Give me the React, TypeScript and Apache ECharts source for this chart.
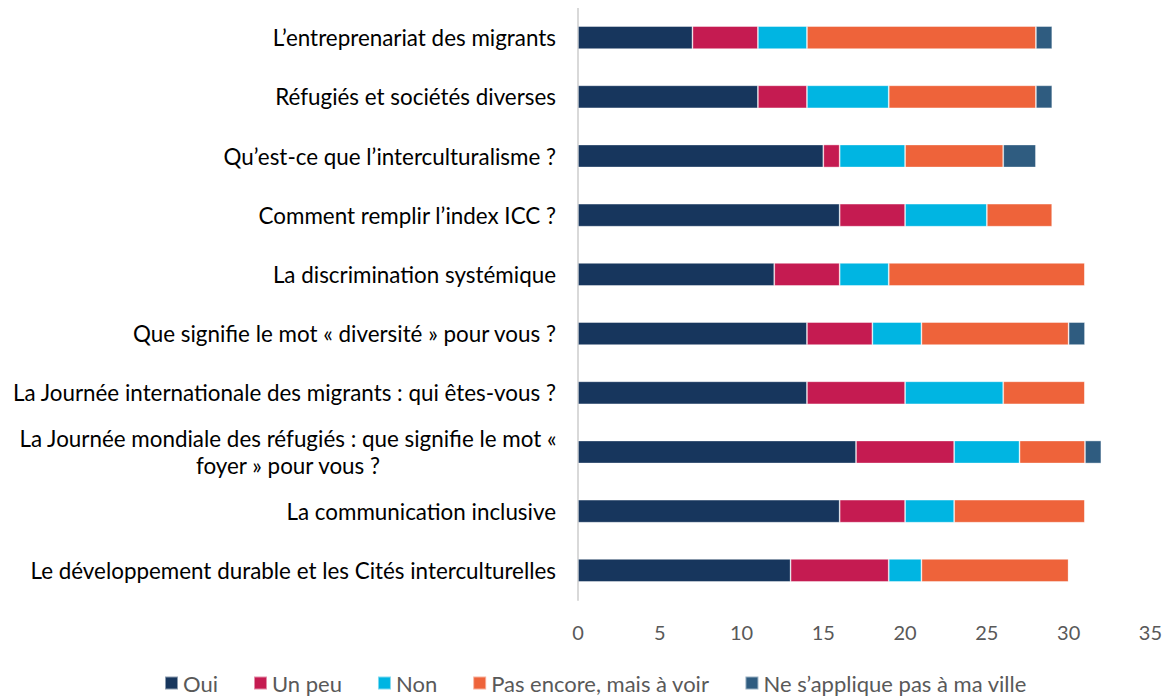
import React, { useEffect, useRef } from "react";
import * as echarts from "echarts";

const categories = [
  "L’entreprenariat des migrants",
  "Réfugiés et sociétés diverses",
  "Qu’est-ce que l’interculturalisme ?",
  "Comment remplir l’index ICC ?",
  "La discrimination systémique",
  "Que signifie le mot « diversité » pour vous ?",
  "La Journée internationale des migrants : qui êtes-vous ?",
  "La Journée mondiale des réfugiés : que signifie le mot «\nfoyer » pour vous ?",
  "La communication inclusive",
  "Le développement durable et les Cités interculturelles",
];

const seriesNames = ["Oui", "Un peu", "Non", "Pas encore, mais à voir", "Ne s’applique pas à ma ville"];
const oui = [7, 11, 15, 16, 12, 14, 14, 17, 16, 13];
const unPeu = [4, 3, 1, 4, 4, 4, 6, 6, 4, 6];
const non = [3, 5, 4, 5, 3, 3, 6, 4, 3, 2];
const pasEncore = [14, 9, 6, 4, 12, 9, 5, 4, 8, 9];
const neSapplique = [1, 1, 2, 0, 0, 1, 0, 1, 0, 0];
const xTicks = { min: 0, max: 35, interval: 5 };

const colors = ["#17365D", "#C51B51", "#00B5E2", "#EE633A", "#2F5C80"];
const FONT = "Lato";

export default function App() {
  const ref = useRef<HTMLDivElement>(null);
  useEffect(() => {
    if (!ref.current) return;
    const chart = echarts.init(ref.current, null, { renderer: "svg" });
    const values = [oui, unPeu, non, pasEncore, neSapplique];
    chart.setOption({
      animation: false,
      textStyle: { fontFamily: FONT },
      grid: { left: 570, right: 10, top: 0, bottom: 97, containLabel: false },
      legend: {
        data: seriesNames,
        top: 664,
        left: 156,
        padding: 0,
        icon: "rect",
        itemWidth: 13,
        itemHeight: 13,
        itemGap: 35,
        textStyle: { fontFamily: FONT, fontSize: 22, color: "#595959" },
      },
      xAxis: {
        type: "value",
        min: xTicks.min,
        max: xTicks.max,
        interval: xTicks.interval,
        axisLine: { show: false },
        axisTick: { show: false },
        splitLine: { show: false },
        axisLabel: { fontFamily: FONT, fontSize: 20, color: "#595959", margin: 22 },
      },
      yAxis: {
        type: "category",
        inverse: true,
        data: categories,
        axisLine: { show: true, lineStyle: { color: "#D9D9D9", width: 2 } },
        axisTick: { show: false },
        axisLabel: {
          fontFamily: FONT,
          fontSize: 22.4,
          color: "#000",
          margin: 22,
          lineHeight: 27,
          formatter: (v: string) =>
            v.includes("\n") ? v.split("\n").map((l) => `{c|${l}}`).join("\n") : v,
          rich: {
            c: { width: 536, align: "center", fontFamily: FONT, fontSize: 22.4, color: "#000", lineHeight: 27 },
          },
        },
      },
      series: seriesNames.map((name, i) => ({
        name,
        type: "bar",
        stack: "total",
        barWidth: 23,
        data: values[i],
        itemStyle: { color: colors[i], borderColor: "rgba(255,255,255,0.5)", borderWidth: 0.8 },
      })),
    });
    return () => chart.dispose();
  }, []);
  return <div ref={ref} style={{ width: 1157, height: 689 }} />;
}
